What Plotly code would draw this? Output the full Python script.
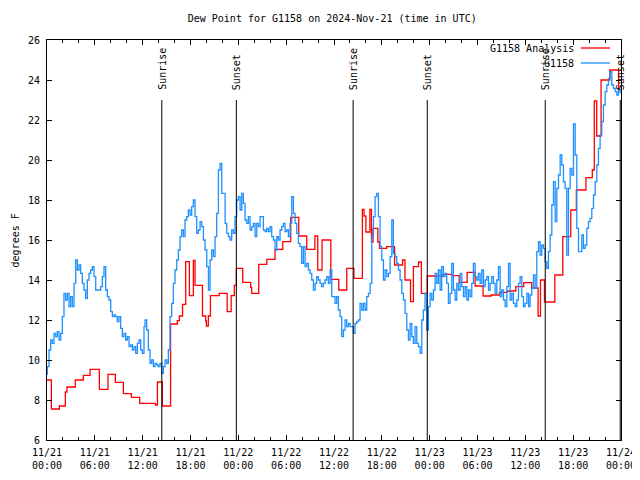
import pandas as pd
import plotly.graph_objects as go

START = pd.Timestamp("2024-11-21 00:00")

# Analysis (red) – step changes: hours since start, value
analysis_hours = [0, 0.55, 1.55, 2.3, 2.5, 3.55, 4.56, 5.4, 6.57, 7.65, 8.57, 9.58, 10.58, 11.63,
                  13.6, 13.85, 14.47, 15.5, 16.35, 16.6, 17.0, 17.4, 17.86, 18.36, 18.57, 19.5,
                  19.9, 20.0, 20.24, 20.5, 21.6, 22.6, 23.1, 23.5, 23.75, 24.55, 25.55, 25.68,
                  26.56, 27.57, 28.6, 29.57, 30.57, 31.58, 32.58, 33.6, 33.96, 34.5, 35.6, 36.6,
                  37.6, 38.5, 39.56, 39.77, 40.0, 40.5, 40.7, 40.9, 41.5, 41.7, 42.6, 43.6, 44.6,
                  44.9, 45.6, 45.96, 46.6, 46.96, 47.7, 49.65, 50.8, 51.7, 52.7, 53.7, 54.7, 55.7,
                  56.75, 57.75, 58.8, 59.8, 60.8, 61.6, 61.9, 62.4, 63.7, 64.7, 65.7, 66.4, 67.6,
                  68.4, 68.65, 68.95, 69.5, 70.6, 71.7, 72.0]
analysis_vals = [9.0, 7.55, 7.7, 8.4, 8.65, 9.0, 9.23, 9.53, 8.53, 9.28, 8.88, 8.32, 8.13, 7.83,
                 7.75, 8.9, 7.7, 11.8, 11.97, 12.2, 12.78, 14.92, 13.22, 14.98, 13.73, 12.2,
                 11.95, 11.7, 12.2, 13.22, 13.33, 12.42, 13.22, 13.73, 14.58, 13.88, 13.63, 13.33,
                 14.78, 15.03, 15.53, 15.92, 17.13, 16.2, 15.53, 16.2, 14.5, 16.0, 14.03, 13.5,
                 14.58, 14.08, 17.53, 17.2, 16.4, 17.53, 15.9, 16.58, 15.9, 15.58, 15.67, 14.75, 15.0,
                 14.0, 12.92, 14.67, 14.9, 13.33, 14.2, 14.28, 14.22, 13.88, 14.38, 13.7, 13.2, 13.25,
                 13.38, 13.45, 13.67, 13.87, 13.6, 12.2, 14.0, 12.9, 14.25, 16.17, 17.5, 18.5, 19.12,
                 19.5, 22.95, 21.2, 24.0, 24.5, 23.5, 23.5]

# Station observations (blue): hours since start, value
obs_hours = [0.0, 0.04, 0.25, 0.46, 0.67, 0.88, 1.09, 1.3, 1.51, 1.72, 1.92, 2.13, 2.34, 2.55, 2.76,
             2.97, 3.18, 3.39, 3.6, 3.81, 4.02, 4.22, 4.43, 4.64, 4.85, 5.06, 5.27, 5.48, 5.69, 5.9,
             6.11, 6.31, 6.52, 6.73, 6.94, 7.15, 7.36, 7.57, 7.78, 7.99, 8.2, 8.4, 8.61, 8.82, 9.03,
             9.24, 9.45, 9.66, 9.87, 10.08, 10.29, 10.5, 10.71, 10.92, 11.13, 11.34, 11.55, 11.75,
             11.96, 12.17,
             12.3, 12.5, 12.71, 12.92, 13.13, 13.34, 13.55, 13.76, 13.97, 14.18, 14.39, 14.6, 14.81,
             15.02, 15.22, 15.43, 15.64, 15.85, 16.06, 16.27, 16.48, 16.69, 16.9, 17.11, 17.31,
             17.52, 17.73, 17.94, 18.15, 18.36, 18.57, 18.78, 18.99, 19.2, 19.41, 19.62, 19.83,
             20.04, 20.25, 20.45, 20.66, 20.87, 21.08, 21.29, 21.5, 21.71, 21.92, 22.13, 22.34,
             22.55, 22.75, 22.96, 23.17, 23.38, 23.59, 23.8, 24.01,
             24.22, 24.43, 24.63, 24.84, 25.05, 25.26, 25.47, 25.68, 25.89, 26.1, 26.31, 26.52,
             26.73, 26.93, 27.14, 27.35, 27.56, 27.77, 27.98, 28.19, 28.4, 28.61, 28.82, 29.02,
             29.23, 29.44, 29.65, 29.86, 30.07, 30.28, 30.49, 30.7, 30.91, 31.12, 31.33, 31.53,
             31.74, 31.95, 32.16, 32.37, 32.58, 32.79, 33.0, 33.21, 33.42, 33.63, 33.83, 34.04,
             34.25, 34.46, 34.67, 34.88, 35.09, 35.3, 35.51, 35.72, 35.93, 36.13, 36.34, 36.55,
             36.76, 36.97, 37.18, 37.39, 37.6, 37.81, 38.02, 38.23, 38.43, 38.64, 38.85, 39.06,
             39.27, 39.48, 39.69, 39.9, 40.11, 40.32, 40.53, 40.74, 40.95, 41.15, 41.36, 41.57,
             41.78, 41.99, 42.2, 42.41, 42.62, 42.83, 43.04, 43.25, 43.45, 43.66, 43.87, 44.08,
             44.29, 44.5, 44.71, 44.92, 45.13, 45.34, 45.55, 45.76, 45.96, 46.17, 46.38, 46.59,
             46.8, 47.01, 47.21, 47.42, 47.63, 47.84, 48.05, 48.26, 48.47, 48.68, 48.89, 49.1,
             49.31, 49.51, 49.72, 49.93, 50.14, 50.35, 50.56, 50.77, 50.98, 51.19, 51.4, 51.61,
             51.82, 52.03, 52.24, 52.45, 52.66, 52.87, 53.07, 53.28, 53.49, 53.7, 53.91, 54.12,
             54.33, 54.54, 54.75, 54.96, 55.17, 55.38, 55.58, 55.79, 56.0, 56.21, 56.42, 56.63,
             56.84, 57.05, 57.26, 57.47, 57.68, 57.89, 58.09, 58.3, 58.51, 58.72, 58.93, 59.14,
             59.35, 59.56, 59.77, 59.98, 60.19, 60.4,
             60.6, 60.81, 61.02, 61.23, 61.44, 61.65, 61.85, 62.06, 62.27, 62.48, 62.69, 62.9,
             63.11, 63.32, 63.53, 63.74, 63.95, 64.16, 64.37, 64.57, 64.78, 64.99, 65.2, 65.41,
             65.62, 65.83, 66.04, 66.25, 66.46, 66.67, 66.88, 67.08, 67.29, 67.5, 67.71, 67.92,
             68.13, 68.34, 68.55, 68.76, 68.97, 69.17, 69.38, 69.59, 69.8, 70.01, 70.22, 70.43,
             70.64, 70.85, 71.06, 71.27, 71.48, 71.68, 71.89]
obs_vals = [9.3, 9.67, 10.5, 11.0, 10.83, 11.33, 11.17, 11.42, 11.0, 11.33, 12.17, 13.33, 13.0,
            13.33, 12.67, 13.17, 12.67, 13.83, 15.0, 14.5, 14.75, 14.33, 13.83, 13.5, 13.08, 14.0,
            14.33, 14.5, 14.67, 14.17, 13.5, 13.5, 13.5, 13.67, 14.17, 14.67, 13.5, 13.17, 13.0,
            12.42, 12.17, 12.25, 12.17, 11.92, 12.17, 11.58, 11.17, 11.33, 11.0, 11.17, 10.67,
            10.75, 10.5, 10.67, 10.33, 10.83, 11.0, 10.5, 10.33, 11.67,
            12.0, 11.5, 10.5, 9.83, 10.0, 9.67, 9.83, 9.75, 9.67, 9.83, 9.33, 9.67, 10.0,
            9.83, 10.5, 12.17, 12.83, 13.83, 14.5, 15.0, 15.5, 16.17, 16.5, 16.17, 17.0,
            17.17, 17.5, 17.25, 17.67, 18.0, 17.17, 16.33, 16.5, 16.92, 16.67, 16.0, 15.5,
            14.67, 13.5, 15.0, 15.5, 15.17, 16.17, 17.33, 19.5, 19.83, 18.33, 18.33, 16.83,
            16.33, 16.17, 16.0, 16.5, 16.33, 17.17, 18.0, 18.17,
            17.5, 18.33, 17.83, 17.0, 16.83, 17.17, 16.5, 16.67, 16.83, 16.17, 16.83, 16.67,
            17.17, 17.17, 16.5, 16.42, 16.58, 16.42, 16.67, 16.17, 16.0, 15.5, 16.17, 16.0,
            16.5, 16.67, 16.83, 16.42, 16.5, 16.17, 16.83, 18.17, 17.33, 16.83, 16.33, 15.83,
            15.67, 14.83, 15.67, 14.67, 14.83, 14.5, 14.33, 14.0, 13.5, 13.83, 14.17, 14.0,
            13.83, 13.67, 13.83, 14.0, 14.17, 13.83, 14.5, 13.17, 13.17, 12.83, 13.17, 12.5,
            12.17, 11.17, 11.5, 12.0, 11.67, 11.83, 11.67, 11.67, 11.33, 11.83, 11.92, 12.0,
            12.83, 12.5, 12.83, 12.5, 13.17, 13.33, 13.83, 16.17, 17.17, 18.17, 18.33, 17.17,
            15.67, 15.0, 14.0, 14.5, 14.17, 14.33, 15.17, 17.0, 15.33, 15.17, 14.83, 14.5,
            14.0, 13.33, 13.0, 12.33, 11.5, 11.0, 11.83, 11.17, 10.83, 11.67, 10.83, 10.67,
            10.33, 12.0, 12.5, 13.33, 11.5, 12.67, 13.33, 13.0, 13.5, 14.33, 13.83, 14.5,
            13.5, 14.67, 14.17, 14.33, 13.83, 12.83, 13.33, 14.83, 13.5, 13.0, 13.83, 13.5,
            14.33, 13.67, 13.17, 13.67, 13.0, 13.5, 13.17, 13.83, 14.83, 14.17, 14.0, 14.33,
            13.83, 14.5, 13.67, 14.0, 14.17, 13.5, 13.83, 14.17, 13.83, 13.33, 14.0, 14.67,
            13.17, 13.5, 13.0, 12.67, 13.67, 14.83, 13.0, 13.33, 12.83, 12.67, 13.0, 13.83,
            14.17, 13.17, 12.67, 12.83, 13.33, 12.67,
            13.25, 13.58, 14.25, 13.58, 15.42, 15.92, 15.25, 15.75, 15.58, 14.92, 14.58, 15.42,
            16.25, 17.75, 18.92, 16.92, 18.58, 19.25, 20.25, 19.75, 18.92, 18.58, 15.25, 18.58,
            19.58, 19.25, 21.8, 20.25, 16.58, 15.42, 15.42, 16.25, 15.58, 15.75, 16.58, 16.92,
            17.08, 17.58, 18.25, 18.92, 19.75, 20.58, 21.25, 21.92, 22.75, 23.42, 23.75, 24.08,
            24.42, 23.75, 23.58, 23.42, 23.25, 23.5, 23.33]

sun_labels = ["Sunrise", "Sunset", "Sunrise", "Sunset", "Sunrise", "Sunset"]
sun_hours = [14.4, 23.75, 38.4, 47.7, 62.5, 71.9]

legend_names = ["G1158 Analysis", "G1158"]
colors = ["#ff0000", "#1e90ff"]


def to_time(hours):
    return [START + pd.Timedelta(hours=h) for h in hours]


FONT = "DejaVu Sans Mono"
fig = go.Figure()
fig.add_trace(go.Scatter(x=to_time(analysis_hours), y=analysis_vals, mode="lines",
                         line=dict(color=colors[0], width=1.3, shape="hv"),
                         name=legend_names[0], showlegend=False))
fig.add_trace(go.Scatter(x=to_time(obs_hours), y=obs_vals, mode="lines",
                         line=dict(color=colors[1], width=1.3, shape="hv"),
                         name=legend_names[1], showlegend=False))

shapes = []
annotations = []
for lab, h in zip(sun_labels, sun_hours):
    t = START + pd.Timedelta(hours=h)
    shapes.append(dict(type="line", xref="x", yref="paper", x0=t, x1=t, y0=0, y1=0.85,
                       line=dict(color="black", width=1)))
    annotations.append(dict(text=lab, xref="x", yref="paper", x=t, y=0.87, textangle=-90,
                            xanchor="center", yanchor="bottom", showarrow=False,
                            font=dict(family=FONT, size=10, color="black")))

# manual legend (text left of sample line, as in the original)
for i, (nm, c) in enumerate(zip(legend_names, colors)):
    yy = 0.98 - i * 0.0375
    annotations.append(dict(text=nm, xref="paper", yref="paper", x=0.921, y=yy,
                            xanchor="right", yanchor="middle", showarrow=False,
                            font=dict(family=FONT, size=10, color="black")))
    shapes.append(dict(type="line", xref="paper", yref="paper", x0=0.930, x1=0.981,
                       y0=yy, y1=yy, line=dict(color=c, width=1.3)))

annotations.append(dict(text="degrees F", xref="paper", yref="paper", x=-0.055, y=0.5,
                        textangle=-90, xanchor="center", yanchor="middle", showarrow=False,
                        font=dict(family=FONT, size=10, color="black")))

# the page adds an 8px body margin, so the figure is made 8px smaller
fig.update_layout(
    width=632, height=472,
    margin=dict(l=39, r=19, t=32, b=40, autoexpand=False),
    paper_bgcolor="white", plot_bgcolor="white",
    title=dict(text="Dew Point for G1158 on 2024-Nov-21 (time in UTC)", x=0.513, xanchor="center",
               y=0.977, yanchor="middle", font=dict(family=FONT, size=10, color="black")),
    font=dict(family=FONT, size=10, color="black"),
    shapes=shapes, annotations=annotations,
    xaxis=dict(type="date", range=[START, START + pd.Timedelta(hours=72)], automargin=False,
               tick0=START, dtick=6 * 3600 * 1000, tickformat="%m/%d<br>%H:%M",
               ticks="inside", ticklen=5, tickcolor="black", showgrid=False, zeroline=False,
               showline=True, linecolor="black", linewidth=1, mirror="ticks",
               ticklabelstandoff=3,
               minor=dict(dtick=2 * 3600 * 1000, ticks="inside", ticklen=3, tickcolor="black",
                          showgrid=False)),
    yaxis=dict(range=[6, 26], dtick=2, ticks="inside", ticklen=5, tickcolor="black",
               automargin=False,
               showgrid=False, zeroline=False, showline=True, linecolor="black", linewidth=1,
               mirror="ticks", ticklabelstandoff=4),
)

fig.write_html("out.html")
